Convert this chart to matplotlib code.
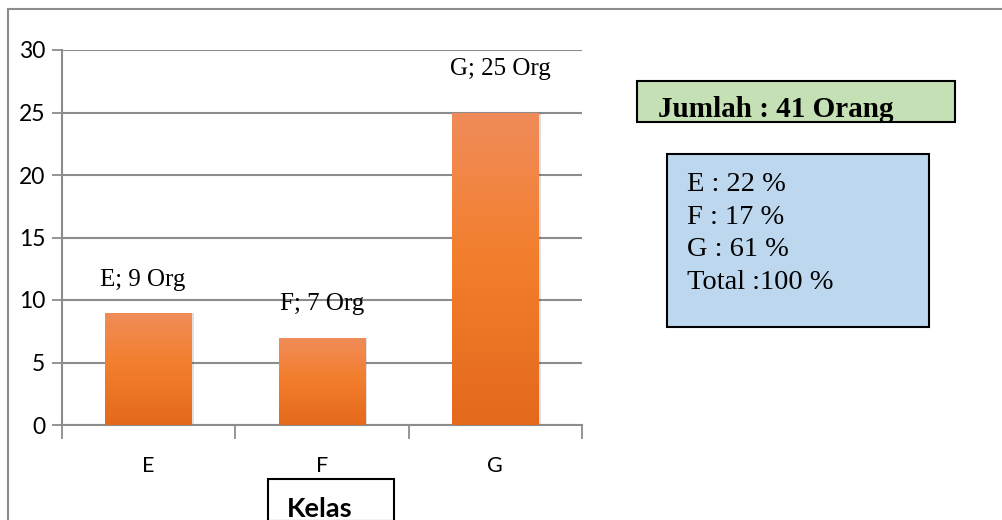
import numpy as np
import matplotlib
matplotlib.use("Agg")
import matplotlib.pyplot as plt
from matplotlib.patches import Rectangle
from matplotlib.colors import LinearSegmentedColormap

categories = ["E", "F", "G"]
counts = [9, 7, 25]
bar_labels = ["E; 9 Org", "F; 7 Org", "G; 25 Org"]
y_ticks = [0, 5, 10, 15, 20, 25, 30]
total_text = "Jumlah : 41 Orang"
pct_lines = ["E : 22 %", "F : 17 %", "G : 61 %", "Total :100 %"]
axis_title = "Kelas"

SANS = ["Lato", "DejaVu Sans"]
SERIF = ["Liberation Serif", "DejaVu Serif"]

W, H = 1002, 520
fig = plt.figure(figsize=(W / 100, H / 100), dpi=100)
fig.patch.set_facecolor("white")

def fx(px):
    return px / W

def fy(py):
    return 1 - py / H

# outer chart frame
fig.add_artist(plt.Line2D([fx(8), fx(8)], [fy(9), 0], color="#8c8c8c", lw=1.5))
fig.add_artist(plt.Line2D([fx(8), 1], [fy(9), fy(9)], color="#8c8c8c", lw=1.5))

ax = fig.add_axes([fx(62), fy(425), fx(582) - fx(62), fy(50) - fy(425)])
x = np.arange(len(categories))
bars = ax.bar(x, counts, width=0.5, color="#F37F2E", zorder=3)

# vertical orange gradient on each bar
cmap = LinearSegmentedColormap.from_list(
    "og", [(0.0, "#E4691C"), (0.55, "#F37F2E"), (1.0, "#F08C5A")])
grad = np.linspace(0, 1, 256).reshape(-1, 1)
for b in bars:
    x0, y0 = b.get_x(), b.get_y()
    w, h = b.get_width(), b.get_height()
    im = ax.imshow(grad, cmap=cmap, origin="lower", aspect="auto",
                   extent=[x0, x0 + w, y0, y0 + h], zorder=4)
    im.set_clip_path(b)
    # soft shadow along the right edge
    ax.add_patch(Rectangle((x0 + w, y0), 0.012, h, color="#000000",
                           alpha=0.12, lw=0, zorder=2))

ax.set_xlim(-0.5, 2.5)
ax.set_ylim(0, 30)
ax.set_yticks(y_ticks)
ax.set_yticklabels([str(v) for v in y_ticks], family=SANS, fontsize=16.5)
ax.set_xticks(x)
ax.set_xticklabels(categories, family=SANS, fontsize=15.5)
ax.set_xticks([-0.5, 0.5, 1.5, 2.5], minor=True)
ax.tick_params(axis="x", which="major", length=0, pad=22)
ax.tick_params(axis="x", which="minor", length=10, width=1.3, color="#8c8c8c")
ax.tick_params(axis="y", length=7, width=1.3, color="#8c8c8c", pad=5)
ax.yaxis.grid(True, color="#8c8c8c", lw=1.5, zorder=1)
ax.set_axisbelow(True)
for s in ["top", "right"]:
    ax.spines[s].set_visible(False)
for s in ["left", "bottom"]:
    ax.spines[s].set_color("#8c8c8c")
    ax.spines[s].set_linewidth(1.5)
ax.patch.set_alpha(0)

# data labels
label_offsets = [(-0.035, 2.1), (0.0, 2.2), (0.03, 3.0)]
for xi, v, lab, (dx, dy) in zip(x, counts, bar_labels, label_offsets):
    ax.text(xi + dx, v + dy, lab, ha="center", va="baseline",
            family=SERIF, fontsize=18, zorder=6)

# category axis title box
fig.add_artist(Rectangle((fx(268), fy(521)), fx(394) - fx(268), fy(479) - fy(521),
                         transform=fig.transFigure, facecolor="white",
                         edgecolor="black", lw=1.5))
fig.text(fx(287), fy(517), axis_title, family=SANS, fontweight="bold",
         fontsize=19.5, ha="left", va="baseline")

# total box
fig.add_artist(Rectangle((fx(637), fy(122)), fx(955) - fx(637), fy(81) - fy(122),
                         transform=fig.transFigure, facecolor="#C5E0B4",
                         edgecolor="black", lw=1.5))
fig.text(fx(658), fy(117), total_text, family=SERIF, fontweight="bold",
         fontsize=21, ha="left", va="baseline")

# percentage box
fig.add_artist(Rectangle((fx(667), fy(327)), fx(929) - fx(667), fy(154) - fy(327),
                         transform=fig.transFigure, facecolor="#BDD7EE",
                         edgecolor="black", lw=1.5))
for i, line in enumerate(pct_lines):
    fig.text(fx(687), fy(191 + i * 32.7), line, family=SERIF, fontsize=20.5,
             ha="left", va="baseline")

fig.savefig("out.png", dpi=100)
